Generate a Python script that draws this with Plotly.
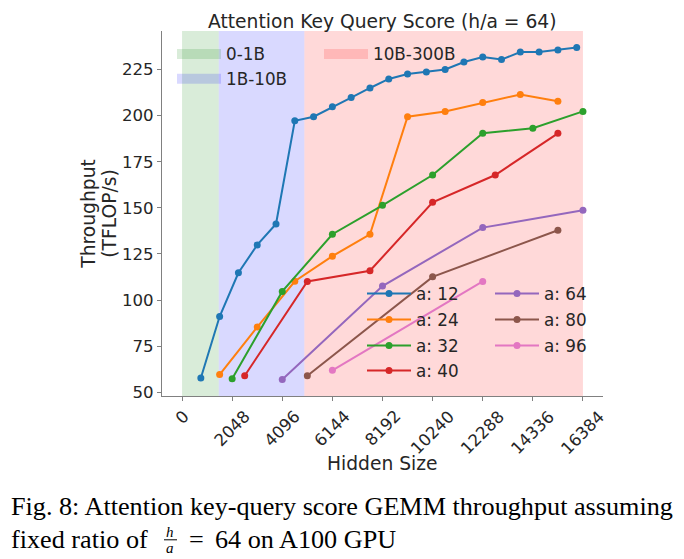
import plotly.graph_objects as go

# The page body adds an 8px offset; the figure is sized so it fills the window exactly.
OFF = 8
W, H = 684 - OFF, 559 - OFF
ML, MR, MT, MB = 162 - OFF, 81, 31 - OFF, 162.5

# ---------------- data ----------------
heads = ["12", "24", "32", "40", "64", "80", "96"]
a12_x = [768, 1536, 2304, 3072, 3840, 4608, 5376, 6144, 6912, 7680, 8448, 9216, 9984,
         10752, 11520, 12288, 13056, 13824, 14592, 15360, 16128]
a12_y = [57.8, 91.1, 114.8, 129.9, 141.3, 197.2, 199.4, 204.8, 209.8, 215.0, 219.9, 222.6,
         223.7, 225.0, 229.1, 231.8, 230.4, 234.5, 234.5, 235.6, 236.9]
a24_x = [1536, 3072, 4608, 6144, 7680, 9216, 10752, 12288, 13824, 15360]
a24_y = [59.6, 85.4, 110.2, 123.8, 135.7, 199.4, 202.3, 207.1, 211.5, 207.8]
a32_x = [2048, 4096, 6144, 8192, 10240, 12288, 14336, 16384]
a32_y = [57.4, 104.7, 135.7, 151.4, 167.8, 190.5, 193.2, 202.3]
a40_x = [2560, 5120, 7680, 10240, 12800, 15360]
a40_y = [59.0, 110.1, 115.9, 153.0, 167.8, 190.4]
a64_x = [4096, 8192, 12288, 16384]
a64_y = [57.0, 107.6, 139.3, 148.7]
a80_x = [5120, 10240, 15360]
a80_y = [59.0, 112.6, 137.9]
a96_x = [6144, 12288]
a96_y = [61.9, 110.1]

region_names = ["0-1B", "1B-10B", "10B-300B"]
region_start = [0, 1500, 5000]
region_end = [1500, 5000, 16384]

x_ticks = [0, 2048, 4096, 6144, 8192, 10240, 12288, 14336, 16384]
y_ticks = [50, 75, 100, 125, 150, 175, 200, 225]

# ---------------- styles ----------------
colors = ["#1f77b4", "#ff7f0e", "#2ca02c", "#d62728", "#9467bd", "#8c564b", "#e377c2"]
region_colors = ["rgba(0,128,0,0.15)", "rgba(0,0,255,0.15)", "rgba(255,0,0,0.15)"]
TXT = "#262626"
SPINE = "#808080"
FONT = "DejaVu Sans"
SERIF = "Liberation Serif"

series_x = [a12_x, a24_x, a32_x, a40_x, a64_x, a80_x, a96_x]
series_y = [a12_y, a24_y, a32_y, a40_y, a64_y, a80_y, a96_y]

# helpers: window pixel -> paper coordinates
def px(xp):
    return (xp - OFF - ML) / (W - ML - MR)

def py(yp):
    return (H - MB - (yp - OFF)) / (H - MT - MB)

fig = go.Figure()

# region shapes + legend entries
region_leg_pos = [(172, 54), (172, 79), (319, 54)]
for i, name in enumerate(region_names):
    fig.add_shape(type="rect", xref="x", yref="paper", x0=region_start[i], x1=region_end[i],
                  y0=0, y1=1, fillcolor=region_colors[i], line_width=0, layer="below")
    fig.add_trace(go.Scatter(x=[None], y=[None], mode="lines", name=name,
                             line=dict(color=region_colors[i], width=12),
                             legend=f"legend{8 + i}", showlegend=True))

# series
series_leg_pos = [(362, 294), (362, 320), (362, 346), (362, 371),
                  (490, 294), (490, 320), (490, 346)]
for i, h in enumerate(heads):
    lg = "legend" if i == 0 else f"legend{i + 1}"
    fig.add_trace(go.Scatter(x=series_x[i], y=series_y[i], mode="lines+markers",
                             name=f"a: {h}", legend=lg,
                             line=dict(color=colors[i], width=2),
                             marker=dict(color=colors[i], size=7)))

ymin = min(min(s) for s in series_y)
ymax = max(max(s) for s in series_y)
ypad = 0.05 * (ymax - ymin)
xpad = 0.05 * (max(x_ticks) - min(x_ticks))

layout_legends = {}
all_pos = series_leg_pos + region_leg_pos
for k, (xp, yp) in enumerate(all_pos):
    key = "legend" if k == 0 else f"legend{k + 1}"
    layout_legends[key] = dict(x=px(xp), y=py(yp), xanchor="left", yanchor="middle",
                               bgcolor="rgba(0,0,0,0)", borderwidth=0, itemwidth=44,
                               font=dict(family=FONT, size=16.8, color=TXT))

annotations = []
# rotated x tick labels
for t in x_ticks:
    annotations.append(dict(x=t, xref="x", y=0, yref="paper", yshift=-8, text=str(t),
                            showarrow=False, textangle=-45, xanchor="center", yanchor="top",
                            font=dict(family=FONT, size=16.6, color=TXT)))
# y axis title (two lines)
annotations.append(dict(x=px(89), y=py(214), xref="paper", yref="paper", text="Throughput",
                        textangle=-90, showarrow=False, xanchor="center", yanchor="middle",
                        font=dict(family=FONT, size=18.7, color=TXT)))
annotations.append(dict(x=px(110), y=py(214), xref="paper", yref="paper", text="(TFLOP/s)",
                        textangle=-90, showarrow=False, xanchor="center", yanchor="middle",
                        font=dict(family=FONT, size=18.7, color=TXT)))
# x axis title
annotations.append(dict(x=px(382), y=py(464), xref="paper", yref="paper", text="Hidden Size",
                        showarrow=False, xanchor="center", yanchor="middle",
                        font=dict(family=FONT, size=18.7, color=TXT)))
# title
annotations.append(dict(x=px(382), y=py(21), xref="paper", yref="paper",
                        text="Attention Key Query Score (h/a = 64)",
                        showarrow=False, xanchor="center", yanchor="middle",
                        font=dict(family=FONT, size=18.7, color=TXT)))
# caption
CAP = 26.2
annotations.append(dict(x=px(9), y=py(507), xref="paper", yref="paper",
                        text="Fig. 8: Attention key-query score GEMM throughput assuming",
                        showarrow=False, xanchor="left", yanchor="middle",
                        font=dict(family=SERIF, size=CAP, color="black")))
annotations.append(dict(x=px(9), y=py(540), xref="paper", yref="paper",
                        text="fixed ratio of",
                        showarrow=False, xanchor="left", yanchor="middle",
                        font=dict(family=SERIF, size=CAP, color="black")))
annotations.append(dict(x=px(170), y=py(533), xref="paper", yref="paper",
                        text="<i>h</i>", showarrow=False, xanchor="center", yanchor="middle",
                        font=dict(family=SERIF, size=15, color="black")))
annotations.append(dict(x=px(170), y=py(549), xref="paper", yref="paper",
                        text="<i>a</i>", showarrow=False, xanchor="center", yanchor="middle",
                        font=dict(family=SERIF, size=15, color="black")))
annotations.append(dict(x=px(187), y=py(540), xref="paper", yref="paper",
                        text="=", showarrow=False, xanchor="left", yanchor="middle",
                        font=dict(family=SERIF, size=CAP, color="black")))
annotations.append(dict(x=px(213), y=py(540), xref="paper", yref="paper",
                        text="64 on A100 GPU",
                        showarrow=False, xanchor="left", yanchor="middle",
                        font=dict(family=SERIF, size=CAP, color="black")))
fig.add_shape(type="line", xref="paper", yref="paper", x0=px(164), x1=px(177),
              y0=py(540.5), y1=py(540.5), line=dict(color="black", width=1))

fig.update_layout(
    width=W, height=H,
    margin=dict(l=ML, r=MR, t=MT, b=MB, pad=0),
    paper_bgcolor="white", plot_bgcolor="white",
    showlegend=True,
    annotations=annotations,
    font=dict(family=FONT, color=TXT),
    xaxis=dict(range=[min(x_ticks) - xpad, max(x_ticks) + xpad], tickvals=x_ticks,
               showticklabels=False, ticks="outside", ticklen=4, tickcolor=SPINE,
               showline=True, linecolor=SPINE, linewidth=1.2, showgrid=False, zeroline=False),
    yaxis=dict(range=[ymin - ypad, ymax + ypad], tickvals=y_ticks,
               ticks="outside", ticklen=4, tickcolor=SPINE,
               tickfont=dict(family=FONT, size=16.6, color=TXT),
               showline=True, linecolor=SPINE, linewidth=1.2, showgrid=False, zeroline=False),
    **layout_legends,
)

fig.write_html("out.html")
